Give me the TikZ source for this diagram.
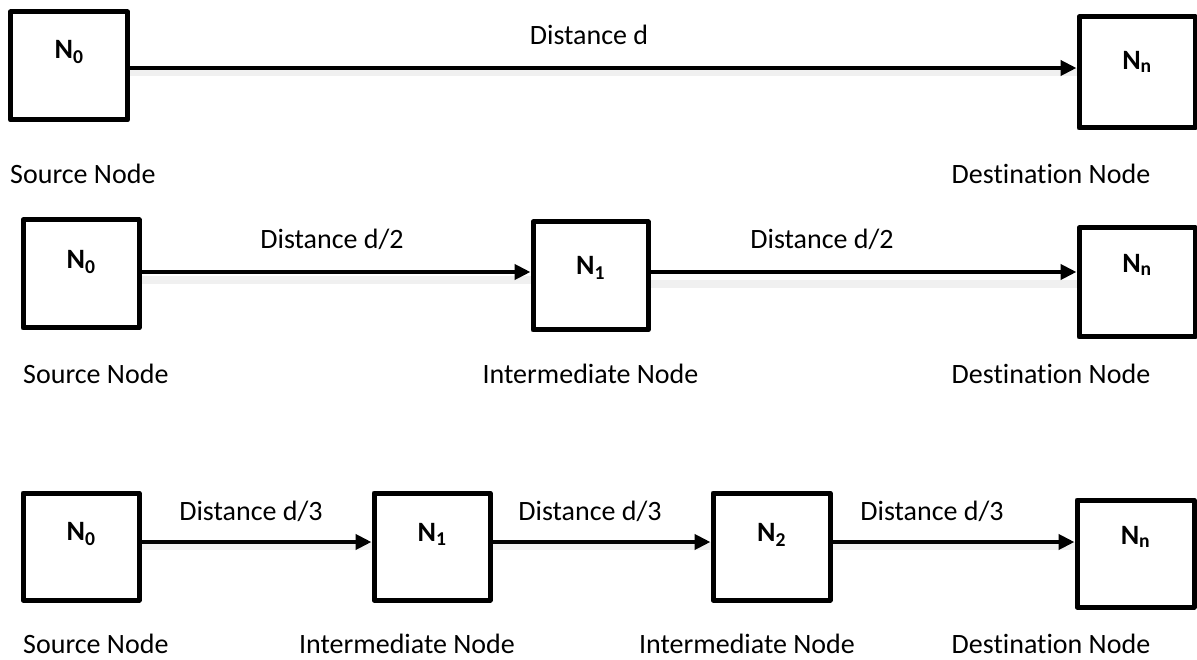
\documentclass[tikz,border=0pt]{standalone}
\usepackage{fontspec}
\setmainfont{Carlito}[Ligatures=NoCommon]
\usetikzlibrary{arrows.meta}
\tikzset{
  hop/.style={draw=black, line width=5pt, line join=round, inner sep=0pt, fill=white},
  conn/.style={line width=4pt, -{Triangle[length=16pt,width=15pt]}},
  shade/.style={line width=8pt, draw=black, opacity=0.06},
  tag/.style={font=\fontsize{28}{33}\selectfont\bfseries, inner sep=0pt},
  txt/.style={font=\fontsize{28}{33}\selectfont, inner sep=0pt, anchor=base},
}
\begin{document}
\begin{tikzpicture}[x=1pt, y=-1pt]
\useasboundingbox (0,0) rectangle (1197,660);

% ---- row 1: direct link ----
\node[hop, minimum width=117pt, minimum height=108pt] (a0) at (69,66) {};
\node[hop, minimum width=116pt, minimum height=111pt] (an) at (1137,72.5) {};
\draw[shade] ([yshift=-6pt]a0.east) -- ([yshift=-6pt]a0.east -| an.west);
\draw[conn] ([yshift=-2pt]a0.east) -- ([yshift=-2pt]a0.east -| an.west);
\node[tag] at (69,52) {N\textsubscript{0}};
\node[tag] at (1137,62) {N\textsubscript{n}};
\node[txt] at (589,45) {Distance d};
\node[txt, anchor=base west] at (10,184) {Source Node};
\node[txt] at (1051,184) {Destination Node};

% ---- row 2: one relay ----
\node[hop, minimum width=116pt, minimum height=108pt] (b0) at (81,274) {};
\node[hop, minimum width=115pt, minimum height=108pt] (b1) at (590.5,276) {};
\node[hop, minimum width=116pt, minimum height=109pt] (bn) at (1137,282.5) {};
\draw[shade] ([yshift=-6pt]b0.east) -- ([yshift=-6pt]b0.east -| b1.west);
\draw[shade] ([yshift=-8pt]b1.east) -- ([yshift=-8pt]b1.east -| bn.west);
\draw[conn] ([yshift=2pt]b0.east) -- ([yshift=2pt]b0.east -| b1.west);
\draw[conn] ([yshift=4pt]b1.east) -- ([yshift=4pt]b1.east -| bn.west);
\node[tag] at (81,262) {N\textsubscript{0}};
\node[tag] at (590.5,268) {N\textsubscript{1}};
\node[tag] at (1137,265) {N\textsubscript{n}};
\node[txt] at (332,249) {Distance d/2};
\node[txt] at (822,249) {Distance d/2};
\node[txt, anchor=base west] at (23,384) {Source Node};
\node[txt] at (590.5,384) {Intermediate Node};
\node[txt] at (1051,384) {Destination Node};

% ---- row 3: two relays ----
\node[hop, minimum width=116pt, minimum height=107pt] (c0) at (81,546.5) {};
\node[hop, minimum width=116pt, minimum height=107pt] (c1) at (432,546.5) {};
\node[hop, minimum width=117pt, minimum height=107pt] (c2) at (771.5,546.5) {};
\node[hop, minimum width=117pt, minimum height=107pt] (cn) at (1135.5,553.5) {};
\draw[shade] ([yshift=0.5pt]c0.east) -- ([yshift=0.5pt]c0.east -| c1.west);
\draw[shade] ([yshift=0.5pt]c1.east) -- ([yshift=0.5pt]c1.east -| c2.west);
\draw[shade] ([yshift=0.5pt]c2.east) -- ([yshift=0.5pt]c2.east -| cn.west);
\draw[conn] ([yshift=4.5pt]c0.east) -- ([yshift=4.5pt]c0.east -| c1.west);
\draw[conn] ([yshift=4.5pt]c1.east) -- ([yshift=4.5pt]c1.east -| c2.west);
\draw[conn] ([yshift=4.5pt]c2.east) -- ([yshift=4.5pt]c2.east -| cn.west);
\node[tag] at (81,534) {N\textsubscript{0}};
\node[tag] at (432,534) {N\textsubscript{1}};
\node[tag] at (771.5,535) {N\textsubscript{2}};
\node[tag] at (1135.5,537) {N\textsubscript{n}};
\node[txt] at (251,520) {Distance d/3};
\node[txt] at (590,520) {Distance d/3};
\node[txt] at (932,520) {Distance d/3};
\node[txt, anchor=base west] at (23,653) {Source Node};
\node[txt] at (407,653) {Intermediate Node};
\node[txt] at (747,653) {Intermediate Node};
\node[txt] at (1051,653) {Destination Node};
\end{tikzpicture}
\end{document}
